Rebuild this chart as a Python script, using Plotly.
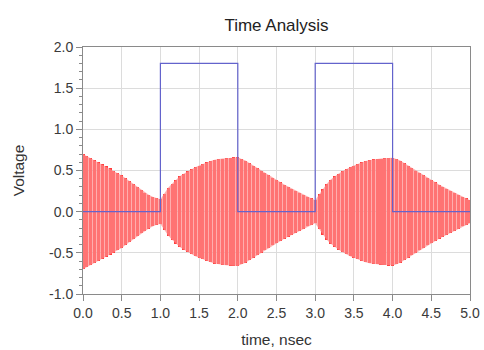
import plotly.graph_objects as go

# Square control pulse (blue)
pulse_t = [0, 1, 1, 2, 2, 3, 3, 4, 4, 5]
pulse_v = [0, 0, 1.8, 1.8, 0, 0, 1.8, 1.8, 0, 0]

# Envelope of the RF signal (red), read every 0.05 ns
env_t = [round(i * 0.05, 2) for i in range(101)]
env_v = [
    0.70, 0.675, 0.65, 0.625, 0.60, 0.575, 0.55, 0.525, 0.50, 0.47,
    0.44, 0.405, 0.37, 0.335, 0.30, 0.265, 0.23, 0.205, 0.18, 0.16,
    0.15, 0.22, 0.29, 0.34, 0.39, 0.43, 0.46, 0.49, 0.52, 0.54,
    0.56, 0.58, 0.60, 0.615, 0.63, 0.64, 0.645, 0.65, 0.655, 0.66,
    0.66, 0.64, 0.62, 0.59, 0.56, 0.53, 0.50, 0.47, 0.44, 0.41,
    0.38, 0.355, 0.33, 0.305, 0.28, 0.255, 0.23, 0.205, 0.18, 0.16,
    0.14, 0.21, 0.28, 0.34, 0.39, 0.43, 0.46, 0.49, 0.52, 0.54,
    0.56, 0.58, 0.60, 0.615, 0.625, 0.635, 0.64, 0.645, 0.65, 0.655,
    0.655, 0.64, 0.62, 0.59, 0.56, 0.53, 0.50, 0.47, 0.44, 0.41,
    0.38, 0.355, 0.33, 0.305, 0.28, 0.255, 0.23, 0.205, 0.18, 0.16,
    0.14,
]

x_ticks = [0.0, 0.5, 1.0, 1.5, 2.0, 2.5, 3.0, 3.5, 4.0, 4.5, 5.0]
y_ticks = [-1.0, -0.5, 0.0, 0.5, 1.0, 1.5, 2.0]

FONT = "Liberation Sans, Arial"

fig = go.Figure()
# light underlying band
fig.add_trace(go.Scatter(
    x=env_t, y=env_v, mode="lines", line=dict(width=0, color="#ff8080"),
    showlegend=False, hoverinfo="skip",
))
fig.add_trace(go.Scatter(
    x=env_t, y=[-v for v in env_v], mode="lines", line=dict(width=0, color="#ff8080"),
    fill="tonexty", fillcolor="rgba(255,140,140,0.7)",
    showlegend=False, hoverinfo="skip",
))
fig.add_trace(go.Bar(
    x=env_t,
    y=[2 * v for v in env_v],
    base=[-v for v in env_v],
    width=0.039,
    marker=dict(color="#ff3a3a", line=dict(width=0)),
    showlegend=False,
    hoverinfo="skip",
))
fig.add_trace(go.Scatter(
    x=pulse_t, y=pulse_v, mode="lines",
    line=dict(color="#6363cc", width=1.2),
    showlegend=False, hoverinfo="skip",
))

axis_common = dict(
    showline=True, linecolor="#8a8a8a", linewidth=1, mirror=True,
    showgrid=True, gridcolor="#dcdcdc", gridwidth=1,
    zeroline=False, automargin=False,
    ticks="outside", ticklen=6, tickcolor="#8a8a8a",
    tickfont=dict(family=FONT, size=14, color="#3a3a3a"),
)

fig.update_layout(
    width=484, height=350,
    margin=dict(l=83, r=14, t=47, b=56),
    paper_bgcolor="white", plot_bgcolor="white",
    bargap=0,
    hovermode=False,
    title=dict(text="Time Analysis", x=(83 + 470) / 2 / 484, xanchor="center",
               y=1 - 25 / 350, yanchor="middle",
               font=dict(family=FONT, size=17, color="#222222")),
    xaxis=dict(
        range=[0, 5], tickvals=x_ticks,
        ticktext=[f"{v:.1f}" for v in x_ticks],
        title=dict(text="time, nsec", standoff=14,
                   font=dict(family=FONT, size=15.5, color="#333333")),
        **axis_common,
    ),
    yaxis=dict(
        range=[-1, 2], tickvals=y_ticks,
        ticktext=[f"{v:.1f}" for v in y_ticks],
        minor=dict(ticks="outside", dtick=0.1, ticklen=3, tickcolor="#8a8a8a", showgrid=False),
        title=dict(text="Voltage", standoff=20,
                   font=dict(family=FONT, size=15.5, color="#333333")),
        **axis_common,
    ),
)

fig.write_html(
    "out.html",
    config={"displayModeBar": False},
    post_script="document.body.style.margin='0';document.body.style.padding='0';",
)
